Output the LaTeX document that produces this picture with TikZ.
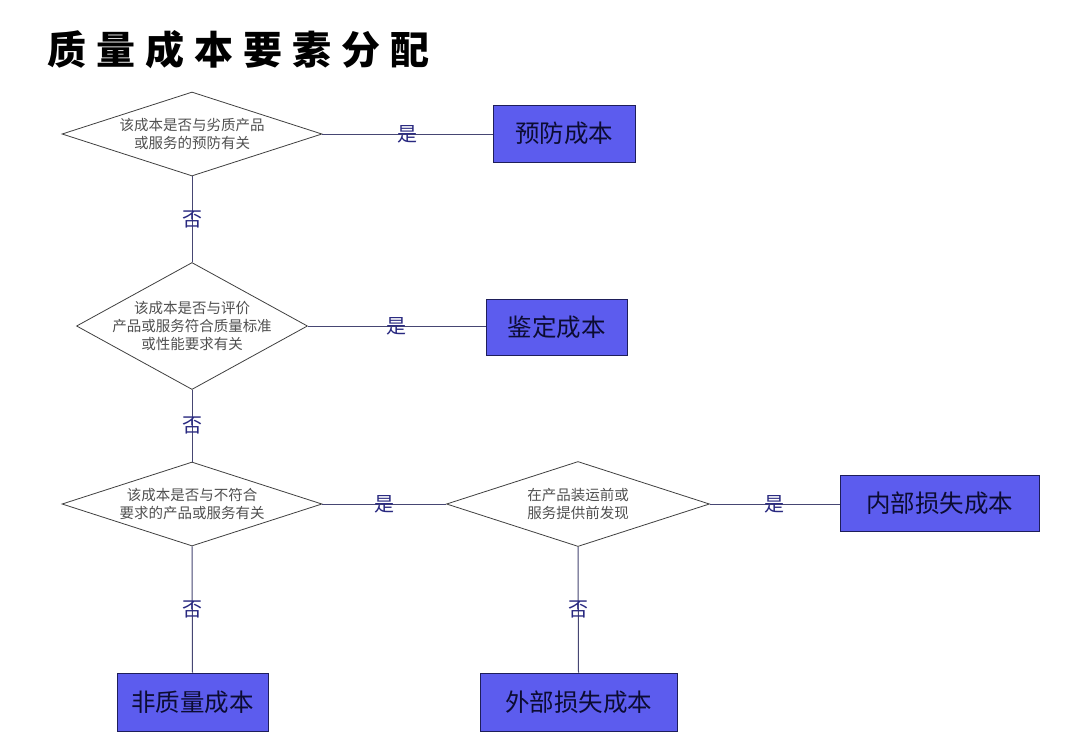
\documentclass[tikz,border=0pt]{standalone}
\usepackage{fontspec}
\usetikzlibrary{shapes.geometric}
\newfontfamily\cjk{Noto Sans CJK SC}
\definecolor{boxfill}{RGB}{92,92,238}
\definecolor{boxline}{RGB}{30,30,90}
\definecolor{boxtext}{RGB}{12,12,50}
\definecolor{conn}{RGB}{70,70,115}
\definecolor{lbl}{RGB}{40,40,128}
\definecolor{dtxt}{RGB}{80,80,80}
\begin{document}
\begin{tikzpicture}[x=1pt,y=-1pt,
  dia/.style={draw=black!75, line width=0.8pt, shape=diamond, inner sep=0pt},
  dtext/.style={font=\cjk\fontsize{14.5}{18}\selectfont, text=dtxt, align=center},
  costbox/.style={draw=boxline, line width=1pt, fill=boxfill, text=boxtext,
     font=\cjk\fontsize{24.5}{27}\selectfont, inner sep=0pt},
  link/.style={draw=conn, line width=1pt},
  yn/.style={font=\cjk\fontsize{20}{21}\selectfont, text=lbl, inner sep=0pt}]
\useasboundingbox (0,0) rectangle (1080,740);
\fill[white] (0,0) rectangle (1080,740);
% title
\node[font=\cjk\bfseries\fontsize{39}{41}\selectfont, anchor=west, inner sep=0pt] (title) at (47,50)
  {质\kern10pt 量\kern10pt 成\kern10pt 本\kern10pt 要\kern10pt 素\kern10pt 分\kern10pt 配};
% diamonds
\node[dia, minimum width=260pt, minimum height=84pt] (d1) at (192,134) {};
\node[dtext] at (d1) {该成本是否与劣质产品\\或服务的预防有关};
\node[dia, minimum width=231pt, minimum height=127pt] (d2) at (192,326) {};
\node[dtext] at (d2) {该成本是否与评价\\产品或服务符合质量标准\\或性能要求有关};
\node[dia, minimum width=260pt, minimum height=84pt] (d3) at (192,504) {};
\node[dtext] at (d3) {该成本是否与不符合\\要求的产品或服务有关};
\node[dia, minimum width=263pt, minimum height=85pt] (d4) at (578,504) {};
\node[dtext] at (d4) {在产品装运前或\\服务提供前发现};
% boxes
\node[costbox, minimum width=142pt, minimum height=57pt] (b1) at (564,133.5) {预防成本};
\node[costbox, minimum width=141pt, minimum height=56pt] (b2) at (556.5,327) {鉴定成本};
\node[costbox, minimum width=199pt, minimum height=56pt] (b3) at (939.5,503) {内部损失成本};
\node[costbox, minimum width=151pt, minimum height=58pt] (b4) at (192.5,702) {非质量成本};
\node[costbox, minimum width=197pt, minimum height=58pt] (b5) at (578.5,702) {外部损失成本};
% connectors
\draw[link] (d1.east) -- node[yn]{是} (d1.east -| b1.west);
\draw[link] (d1.south) -- node[yn]{否} (d2.north);
\draw[link] (d2.east) -- node[yn]{是} (d2.east -| b2.west);
\draw[link] (d2.south) -- node[yn]{否} (d3.north);
\draw[link] (d3.east) -- node[yn]{是} (d4.west);
\draw[link] (d4.east) -- node[yn]{是} (d4.east -| b3.west);
\draw[link] (d3.south) -- node[yn]{否} (b4.north);
\draw[link] (d4.south) -- node[yn]{否} (b5.north);
\end{tikzpicture}
\end{document}
